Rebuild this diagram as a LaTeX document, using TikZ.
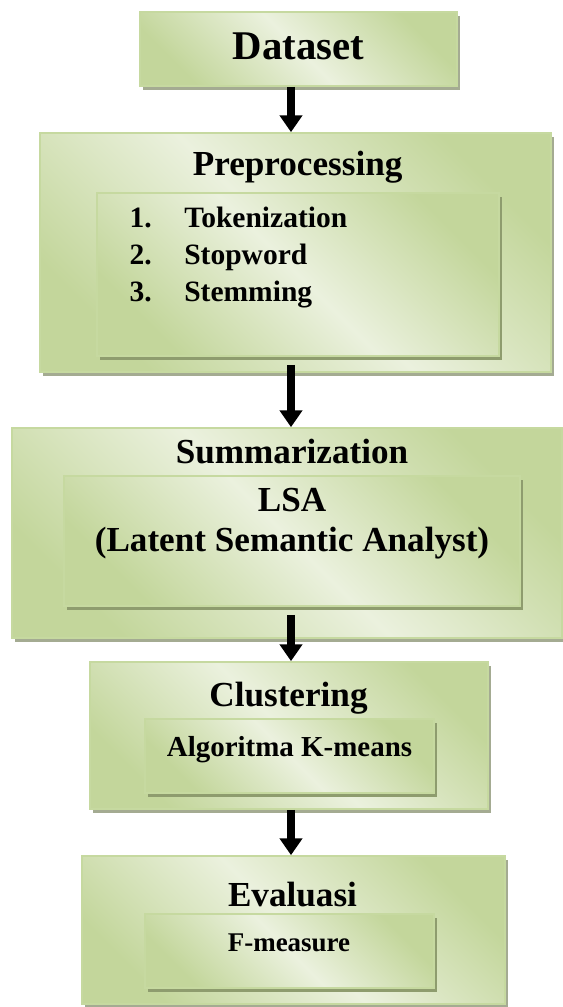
\documentclass[tikz,border=0pt]{standalone}
\usepackage{fontspec}
\setmainfont{Liberation Serif}
\usetikzlibrary{arrows.meta,shadows}

\definecolor{boxlight}{HTML}{EBF1DE}
\definecolor{boxdark}{HTML}{C3D69B}
\definecolor{boxline}{HTML}{C6D9A0}
\definecolor{outshadow}{HTML}{A4AB92}
\definecolor{inshadow}{HTML}{8E9C6E}

\tikzset{
  box/.style={draw=boxline, line width=1.2pt, inner sep=0pt,
    left color=boxdark, right color=boxdark, middle color=boxlight, shading angle=135},
  outerbox/.style={box, drop shadow={shadow xshift=0.08cm, shadow yshift=-0.1cm, fill=outshadow, opacity=1}},
  innerbox/.style={box, drop shadow={shadow xshift=0.08cm, shadow yshift=-0.1cm, fill=inshadow, opacity=1}},
  label/.style={anchor=base, inner sep=0pt, font=\bfseries\fontsize{25}{30}\selectfont},
  arr/.style={line width=5pt, -{Triangle[width=0.55cm,length=0.42cm]}}
}

\begin{document}
\begin{tikzpicture}
    \useasboundingbox (0,0) rectangle (14.05,-25.175);

    % Dataset
    \node[outerbox, minimum width=7.925cm, minimum height=1.85cm] (dataset) at (7.4625,-1.225) {};
    \node[label, font=\bfseries\fontsize{29}{34}\selectfont] (datatxt) at (7.4625,-1.5) {Dataset};

    % Preprocessing
    \node[outerbox, minimum width=12.775cm, minimum height=5.975cm] (prep) at (7.3875,-6.3125) {};
    \node[label] (preptxt) at (7.44,-4.4) {Preprocessing};
    \node[innerbox, minimum width=10.05cm, minimum height=4.075cm] (prepin) at (7.45,-6.8625) {};
    \node[label, anchor=base east, font=\bfseries\fontsize{21}{25}\selectfont] (num1) at (3.8,-5.675) {1.};
    \node[label, anchor=base west, font=\bfseries\fontsize{21}{25}\selectfont] (item1) at (4.6,-5.675) {Tokenization};
    \node[label, anchor=base east, font=\bfseries\fontsize{21}{25}\selectfont] (num2) at (3.8,-6.6) {2.};
    \node[label, anchor=base west, font=\bfseries\fontsize{21}{25}\selectfont] (item2) at (4.6,-6.6) {Stopword};
    \node[label, anchor=base east, font=\bfseries\fontsize{21}{25}\selectfont] (num3) at (3.8,-7.525) {3.};
    \node[label, anchor=base west, font=\bfseries\fontsize{21}{25}\selectfont] (item3) at (4.6,-7.525) {Stemming};

    % Summarization
    \node[outerbox, minimum width=13.75cm, minimum height=5.25cm] (summ) at (7.175,-13.325) {};
    \node[label] (summtxt) at (7.3,-11.575) {Summarization};
    \node[innerbox, minimum width=11.4cm, minimum height=3.25cm] (summin) at (7.3,-13.525) {};
    \node[label] (lsa) at (7.3,-12.775) {LSA};
    \node[label] (lsalong) at (7.3,-13.775) {(Latent Semantic Analyst)};

    % Clustering
    \node[outerbox, minimum width=9.95cm, minimum height=3.675cm] (clust) at (7.225,-18.3875) {};
    \node[label] (clusttxt) at (7.2125,-17.65) {Clustering};
    \node[innerbox, minimum width=7.225cm, minimum height=1.85cm] (clustin) at (7.2375,-18.9) {};
    \node[label, font=\bfseries\fontsize{20.6}{24}\selectfont] (kmeans) at (7.2375,-18.9) {Algoritma K-means};

    % Evaluasi
    \node[outerbox, minimum width=10.575cm, minimum height=3.7cm] (eval) at (7.3375,-23.25) {};
    \node[label] (evaltxt) at (7.3125,-22.65) {Evaluasi};
    \node[innerbox, minimum width=7.225cm, minimum height=1.85cm] (evalin) at (7.2375,-23.775) {};
    \node[label, font=\bfseries\fontsize{19.2}{23}\selectfont] (fmeasure) at (7.225,-23.775) {F-measure};

    % arrows
    \coordinate (axis) at (7.275,0);
    \draw[arr] (axis |- dataset.south) -- (axis |- prep.north);
    \draw[arr, shorten <=0.2cm] (axis |- prepin.south) -- (axis |- summ.north);
    \draw[arr, shorten <=0.2cm] (axis |- summin.south) -- (axis |- clust.north);
    \draw[arr] (axis |- clust.south) -- (axis |- eval.north);
\end{tikzpicture}
\end{document}
